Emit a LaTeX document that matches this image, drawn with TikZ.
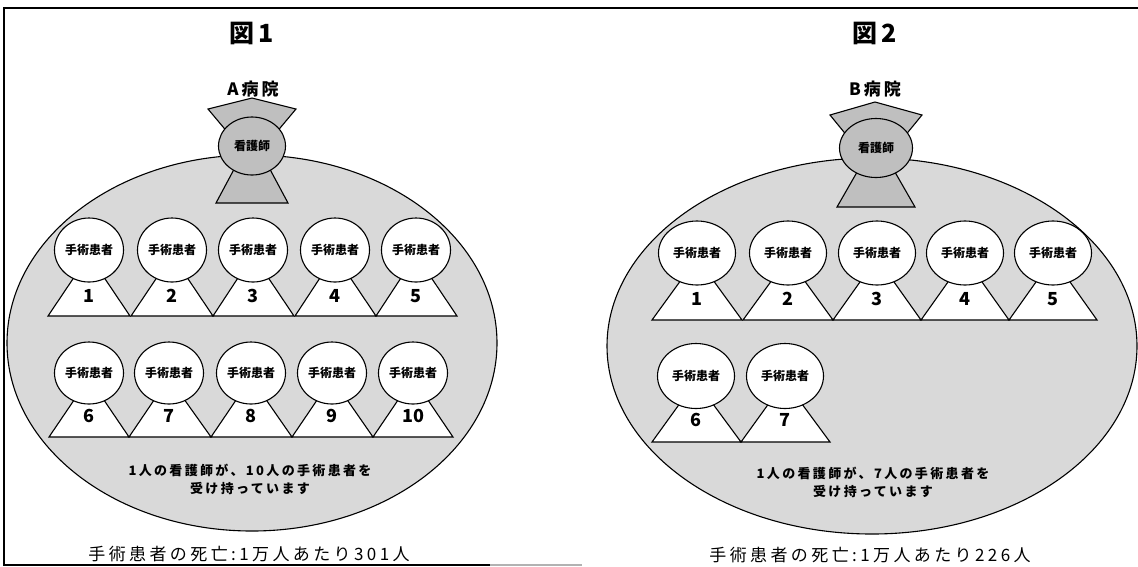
\documentclass[tikz,border=0pt]{standalone}
\usepackage{fontspec}
\usetikzlibrary{shapes.geometric}
\newfontfamily\jp{Noto Sans CJK JP}
\newfontfamily\jpwide{Noto Sans CJK JP}[LetterSpace=18]
\newfontfamily\jpcap{Noto Sans CJK JP}[LetterSpace=20]

\begin{document}
\begin{tikzpicture}[x=1pt,y=-1pt,line width=1.1pt,
        frame/.style={line width=1.2pt},
        ward/.style={draw, fill=gray!30},
        nursepart/.style={draw, fill=gray!50},
        torso/.style={draw, fill=white},
        nurse/.style={ellipse, draw, fill=gray!50, inner sep=0pt, font=\jp\bfseries\fontsize{12}{14}\selectfont},
        patient/.style={ellipse, draw, fill=white, inner sep=0pt, font=\jp\bfseries\fontsize{12}{14}\selectfont},
        num/.style={font=\jp\bfseries\fontsize{18}{20}\selectfont, inner sep=0pt},
        title/.style={font=\jp\bfseries\fontsize{25}{28}\selectfont},
        hosp/.style={font=\jpwide\bfseries\fontsize{17}{20}\selectfont},
        note/.style={align=center, font=\jpwide\bfseries\fontsize{13}{18}\selectfont},
        death/.style={font=\jpcap\fontsize{17}{19}\selectfont}]
        \useasboundingbox (0,0) rectangle (1138,566);

        \draw[frame        ](1138,8)--(4,8)--(4,565)--(490,565);
        \draw[frame,gray!60](490,565)--(582,565);

        \begin{scope}
          \node[title] (figA)  at (252,33) {図\kern4pt1};
          \node[hosp ] (hospA) at (253,89) {A病院};
          \draw[ward] (252,343) ellipse [x radius=245, y radius=188];

          \draw[nursepart](208,109)--(252,98)--(296,109)--(270,140)--(234,140)--cycle;
          \draw[nursepart](239,160)--(265,160)--(288,203)--(216,203)--cycle;
          \node[nurse, minimum width=67pt, minimum height=58pt] (nurseA) at (252,146) {看護師};

          % row 1
          \draw[torso](89 ,255)--(48 ,316)--(130,316)--cycle node[num] (nA1) at (89 ,296){1};
          \draw[torso](172,255)--(131,316)--(213,316)--cycle node[num] (nA2) at (172,296){2};
          \draw[torso](253,255)--(213,316)--(294,316)--cycle node[num] (nA3) at (253,296){3};
          \draw[torso](335,255)--(295,316)--(376,316)--cycle node[num] (nA4) at (335,296){4};
          \draw[torso](416,255)--(376,316)--(457,316)--cycle node[num] (nA5) at (416,296){5};
          \node[patient, minimum width=69pt, minimum height=64pt] (pA1) at (89 ,250){手術患者};
          \node[patient, minimum width=69pt, minimum height=64pt] (pA2) at (172,250){手術患者};
          \node[patient, minimum width=69pt, minimum height=64pt] (pA3) at (253,250){手術患者};
          \node[patient, minimum width=69pt, minimum height=64pt] (pA4) at (335,250){手術患者};
          \node[patient, minimum width=69pt, minimum height=64pt] (pA5) at (416,250){手術患者};

          % row 2
          \draw[torso](89 ,378)--(49 ,437)--(129,437)--cycle node[num] (nA6) at (89 ,416){6};
          \draw[torso](169,378)--(129,437)--(211,437)--cycle node[num] (nA7) at (169,416){7};
          \draw[torso](251,378)--(211,437)--(292,437)--cycle node[num] (nA8) at (251,416){8};
          \draw[torso](332,378)--(292,437)--(373,437)--cycle node[num] (nA9) at (332,416){9};
          \draw[torso](413,378)--(373,437)--(453,437)--cycle node[num] (nA10) at (413,416){10};
          \node[patient, minimum width=69pt, minimum height=62pt] (pA6)  at (89 ,373){手術患者};
          \node[patient, minimum width=69pt, minimum height=62pt] (pA7)  at (169,373){手術患者};
          \node[patient, minimum width=69pt, minimum height=62pt] (pA8)  at (251,373){手術患者};
          \node[patient, minimum width=69pt, minimum height=62pt] (pA9)  at (332,373){手術患者};
          \node[patient, minimum width=69pt, minimum height=62pt] (pA10) at (413,373){手術患者};

          \node[note ] (noteA)  at (250,479) {1人の看護師が、10人の手術患者を\\受け持っています};
          \node[death] (deathA) at (249,554) {手術患者の死亡:1万人あたり301人};
        \end{scope}

        \begin{scope}
          \node[title] (figB)  at (875,33) {図\kern4pt2};
          \node[hosp ] (hospB) at (875,89) {B病院};
          \draw[ward] (872,346) ellipse [x radius=265, y radius=188];

          \draw[nursepart](830,115)--(875,102)--(922,115)--(895,148)--(857,148)--cycle;
          \draw[nursepart](864,160)--(888,160)--(915,207)--(837,207)--cycle;
          \node[nurse, minimum width=73pt, minimum height=59pt] (nurseB) at (876,148) {看護師};

          % row 1
          \draw[torso](697 ,258)--(652 ,320)--(742 ,320)--cycle node[num] (nB1) at (697 ,299){1};
          \draw[torso](788 ,258)--(743 ,320)--(833 ,320)--cycle node[num] (nB2) at (788 ,299){2};
          \draw[torso](877 ,258)--(833 ,320)--(921 ,320)--cycle node[num] (nB3) at (877 ,299){3};
          \draw[torso](965 ,258)--(921 ,320)--(1009,320)--cycle node[num] (nB4) at (965 ,299){4};
          \draw[torso](1053,258)--(1009,320)--(1097,320)--cycle node[num] (nB5) at (1053,299){5};
          \node[patient, minimum width=77pt, minimum height=64pt] (pB1) at (697 ,253){手術患者};
          \node[patient, minimum width=77pt, minimum height=64pt] (pB2) at (788 ,253){手術患者};
          \node[patient, minimum width=77pt, minimum height=64pt] (pB3) at (877 ,253){手術患者};
          \node[patient, minimum width=77pt, minimum height=64pt] (pB4) at (965 ,253){手術患者};
          \node[patient, minimum width=77pt, minimum height=64pt] (pB5) at (1053,253){手術患者};

          % row 2
          \draw[torso](696,381)--(652,442)--(741,442)--cycle node[num] (nB6) at (696,420){6};
          \draw[torso](785,381)--(741,442)--(830,442)--cycle node[num] (nB7) at (785,420){7};
          \node[patient, minimum width=77pt, minimum height=65pt] (pB6) at (696,376){手術患者};
          \node[patient, minimum width=77pt, minimum height=65pt] (pB7) at (785,376){手術患者};

          \node[note ] (noteB)  at (873,482) {1人の看護師が、7人の手術患者を\\受け持っています};
          \node[death] (deathB) at (870,555) {手術患者の死亡:1万人あたり226人};
        \end{scope}
      \end{tikzpicture}
\end{document}
